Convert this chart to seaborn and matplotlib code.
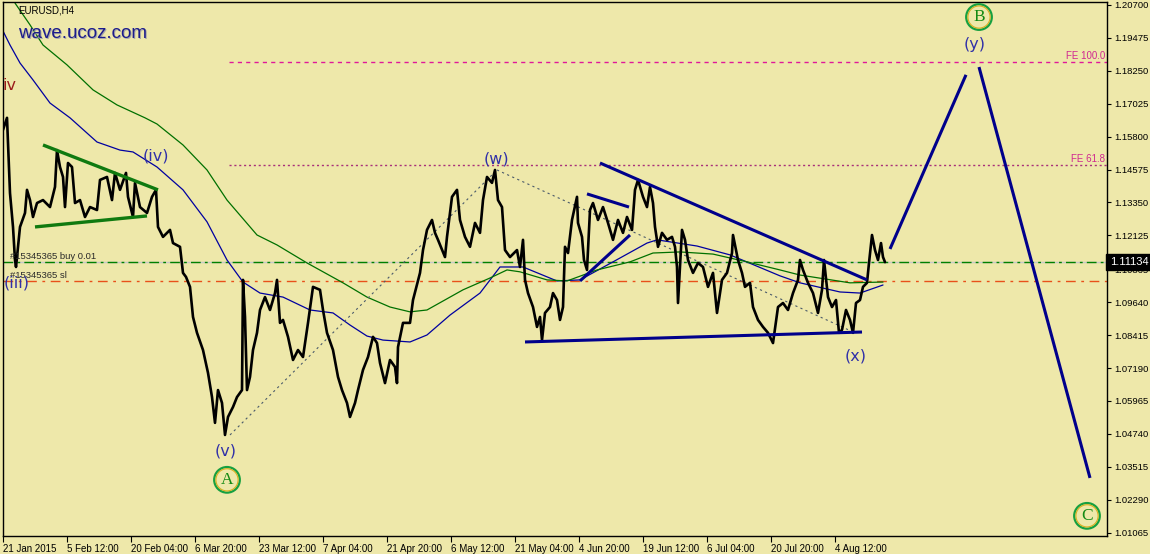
import matplotlib
matplotlib.use("Agg")
import matplotlib.pyplot as plt
import matplotlib.transforms as mtransforms
import seaborn as sns

# EURUSD H4, values (x = bar number from 21 Jan 2015)
price_bar = [0, 4, 7, 10, 12, 13, 17, 22, 24, 27, 30, 34, 40, 47, 52, 54, 57, 60, 62, 65,
             69, 72, 77, 82, 87, 94, 97, 104, 109, 112, 117, 123, 125, 130, 132, 137, 144, 149, 153, 155,
             160, 167, 170, 177, 180, 183, 187, 190, 194, 200, 205, 209, 212, 215, 219, 222, 225, 230, 234, 239,
             240, 242, 244, 247, 250, 254, 257, 262, 267, 272, 274, 277, 280, 285, 290, 295, 300, 305, 310, 317,
             320, 324, 330, 335, 339, 344, 347, 352, 355, 360, 365, 370, 374, 377, 382, 387, 392, 394, 395, 400,
             407, 410, 417, 420, 424, 429, 432, 435, 442, 444, 449, 454, 457, 462, 467, 472, 477, 480, 484, 489,
             492, 495, 499, 502, 507, 514, 517, 520, 522, 525, 530, 534, 537, 539, 542, 547, 550, 554, 557, 560,
             562, 565, 569, 574, 575, 579, 581, 584, 587, 590, 595, 600, 605, 610, 615, 620, 624, 629, 632, 635,
             640, 644, 647, 650, 652, 655, 659, 664, 669, 672, 674, 675, 679, 682, 685, 690, 695, 700, 705, 710,
             714, 719, 724, 729, 730, 735, 739, 742, 747, 750, 755, 760, 765, 767, 770, 775, 780, 785, 790, 795,
             797, 800, 805, 810, 815, 819, 821, 825, 829, 833, 836, 839, 843, 847, 850, 853, 857, 860, 864, 866,
             869, 872, 875, 878, 880, 882]
price = [1.1605, 1.1650, 1.1370, 1.1244, 1.1121, 1.1095, 1.1244, 1.1296, 1.1382, 1.1344, 1.1281, 1.1333, 1.1344, 1.1318, 1.1393, 1.1530, 1.1467, 1.1430, 1.1318, 1.1482,
         1.1467, 1.1333, 1.1344, 1.1281, 1.1318, 1.1307, 1.1419, 1.1430, 1.1344, 1.1445, 1.1382, 1.1445, 1.1356, 1.1281, 1.1408, 1.1318, 1.1296, 1.1356, 1.1382, 1.1244,
         1.1207, 1.1233, 1.1184, 1.1170, 1.1073, 1.1058, 1.1021, 1.0909, 1.0850, 1.0786, 1.0701, 1.0611, 1.0515, 1.0637, 1.0589, 1.0470, 1.0537, 1.0574, 1.0611, 1.0637,
         1.1047, 1.0909, 1.0637, 1.0686, 1.0786, 1.0850, 1.0935, 1.0983, 1.0935, 1.0998, 1.1047, 1.0887, 1.0898, 1.0835, 1.0749, 1.0786, 1.0760, 1.0887, 1.1021, 1.1010,
         1.0935, 1.0850, 1.0786, 1.0686, 1.0637, 1.0589, 1.0537, 1.0589, 1.0637, 1.0712, 1.0760, 1.0835, 1.0812, 1.0738, 1.0663, 1.0749, 1.0723, 1.0663, 1.0797, 1.0887,
         1.0887, 1.0972, 1.1073, 1.1158, 1.1233, 1.1270, 1.1222, 1.1196, 1.1132, 1.1207, 1.1356, 1.1382, 1.1270, 1.1207, 1.1170, 1.1259, 1.1222, 1.1344, 1.1430, 1.1408,
         1.1456, 1.1344, 1.1318, 1.1158, 1.1132, 1.1158, 1.1095, 1.1196, 1.1047, 1.0998, 1.0946, 1.0872, 1.0909, 1.0823, 1.0924, 1.0946, 1.0998, 1.0972, 1.0898, 1.0946,
         1.1170, 1.1147, 1.1270, 1.1356, 1.1259, 1.1207, 1.1121, 1.1084, 1.1307, 1.1333, 1.1270, 1.1318, 1.1259, 1.1196, 1.1270, 1.1222, 1.1281, 1.1233, 1.1382, 1.1419,
         1.1356, 1.1318, 1.1393, 1.1333, 1.1244, 1.1170, 1.1222, 1.1196, 1.1207, 1.1170, 1.1095, 1.0961, 1.1233, 1.1196, 1.1121, 1.1073, 1.1110, 1.1095, 1.1021, 1.1073,
         1.0924, 1.1047, 1.1073, 1.1147, 1.1214, 1.1121, 1.1073, 1.1021, 1.1036, 1.0946, 1.0898, 1.0872, 1.0850, 1.0835, 1.0812, 1.0946, 1.0961, 1.0935, 1.0998, 1.1047,
         1.1121, 1.1084, 1.1036, 1.0998, 1.0924, 1.1010, 1.1121, 1.0983, 1.0946, 1.0972, 1.0850, 1.0861, 1.0935, 1.0898, 1.0850, 1.0961, 1.0972, 1.1021, 1.1036, 1.1110,
         1.1214, 1.1158, 1.1121, 1.1184, 1.1132, 1.1113]

ma_blue_bar = [0, 7, 17, 30, 47, 67, 94, 117, 130, 154, 180, 204, 224, 240, 257, 280, 307, 330, 347, 364,
               380, 407, 424, 447, 477, 497, 520, 554, 577, 610, 644, 654, 694, 727, 777, 797, 837, 857, 880]
ma_blue = [1.1973, 1.1921, 1.1854, 1.1791, 1.1705, 1.1650, 1.1560, 1.1530, 1.1523, 1.1467, 1.1382, 1.1263, 1.1121, 1.1039, 1.0998, 1.0983, 1.0935, 1.0924, 1.0879, 1.0838,
           1.0823, 1.0816, 1.0842, 1.0916, 1.0998, 1.1095, 1.1095, 1.1043, 1.1047, 1.1114, 1.1184, 1.1196, 1.1173, 1.1140, 1.1062, 1.1036, 1.1002, 1.0998, 1.1028]

ma_green_bar = [12, 27, 40, 64, 90, 114, 142, 154, 180, 204, 224, 254, 274, 304, 340, 364, 387, 407, 424, 460,
                487, 504, 517, 544, 564, 594, 627, 650, 677, 710, 744, 777, 797, 847, 880]
ma_green = [1.2077, 1.1996, 1.1921, 1.1847, 1.1754, 1.1698, 1.1650, 1.1627, 1.1549, 1.1456, 1.1344, 1.1214, 1.1177, 1.1110, 1.1036, 1.0983, 1.0946, 1.0928, 1.0935, 1.1010,
            1.1054, 1.1084, 1.1077, 1.1047, 1.1043, 1.1084, 1.1114, 1.1147, 1.1151, 1.1143, 1.1114, 1.1084, 1.1065, 1.1036, 1.1039]

# trend lines: (bar0, price0, bar1, price1)
green_lines = [(40, 1.1549, 155, 1.1382), (32, 1.1244, 144, 1.1285)]
blue_lines = [(597, 1.1482, 864, 1.1047), (522, 1.0816, 859, 1.0853),
              (584, 1.1367, 626, 1.1318), (577, 1.1043, 627, 1.1214),
              (887, 1.1162, 963, 1.1810), (976, 1.1839, 1087, 1.0310)]
dotted_lines = [(227, 1.0470, 494, 1.1456), (494, 1.1456, 852, 1.0850)]

wave_labels = ["(iii)", "(iv)", "(v)", "(w)", "(x)", "(y)"]
wave_bar = [14, 153, 223, 493, 853, 972]
wave_price = [1.1036, 1.1508, 1.0410, 1.1497, 1.0764, 1.1921]
circle_labels = ["A", "B", "C"]
circle_bar = [224, 976, 1084]
circle_price = [1.0303, 1.2025, 1.0169]

fe100, fe618 = 1.1858, 1.1475
buy_level, sl_level = 1.11134, 1.1043
last_price = "1.11134"

y_ticks = [1.01065, 1.02290, 1.03515, 1.04740, 1.05965, 1.07190, 1.08415, 1.09640, 1.10865,
           1.12125, 1.13350, 1.14575, 1.15800, 1.17025, 1.18250, 1.19475, 1.20700]
x_tick_labels = ["21 Jan 2015", "5 Feb 12:00", "20 Feb 04:00", "6 Mar 20:00", "23 Mar 12:00",
                 "7 Apr 04:00", "21 Apr 20:00", "6 May 12:00", "21 May 04:00", "4 Jun 20:00",
                 "19 Jun 12:00", "6 Jul 04:00", "20 Jul 20:00", "4 Aug 12:00"]
x_ticks = [64 * i for i in range(len(x_tick_labels))]

bg = "#EEE8AA"
sns.set_theme(style="white", rc={"axes.facecolor": bg, "figure.facecolor": bg})
plt.rcParams["font.family"] = ["Liberation Sans", "DejaVu Sans"]

fig = plt.figure(figsize=(11.5, 5.54), dpi=100)
ax = fig.add_axes([3 / 1150, 18 / 554, 1104 / 1150, 534 / 554])
ax.set_xlim(0, 1104)
ax.set_ylim(1.0094, 1.2081)

# horizontal levels
ax.axhline(buy_level, color="#c8c8c8", lw=1, zorder=1)
ax.axhline(buy_level, color="#008000", lw=1, ls=(0, (7, 3, 2, 3)), zorder=1)
ax.axhline(sl_level, color="#e8501a", lw=1, ls=(0, (7, 4, 2, 4)), zorder=1)
ax.plot([226, 1104], [fe100, fe100], color="#e0189a", lw=1, ls=(0, (3, 3)))
ax.plot([226, 1104], [fe618, fe618], color="#a8307a", lw=1, ls=(0, (1.5, 2)))
ax.text(1102, fe100 + 0.0004, "FE 100.0", color="#d02890", fontsize=7, ha="right", va="bottom")
ax.text(1102, fe618 + 0.0004, "FE 61.8", color="#d02890", fontsize=7, ha="right", va="bottom")

# moving averages
sns.lineplot(x=ma_blue_bar, y=ma_blue, ax=ax, color="#0000a0", lw=0.9, sort=False, estimator=None)
sns.lineplot(x=ma_green_bar, y=ma_green, ax=ax, color="#007000", lw=0.9, sort=False, estimator=None)

for b0, p0, b1, p1 in dotted_lines:
    ax.plot([b0, b1], [p0, p1], color="#4a5a6a", lw=0.8, ls=(0, (2, 3)))

# price
sns.lineplot(x=price_bar, y=price, ax=ax, color="black", lw=1.9, sort=False, estimator=None, zorder=3)

for b0, p0, b1, p1 in green_lines:
    ax.plot([b0, b1], [p0, p1], color="#107a10", lw=2.4, solid_capstyle="butt", zorder=4)
for b0, p0, b1, p1 in blue_lines:
    ax.plot([b0, b1], [p0, p1], color="#00008b", lw=2.2, solid_capstyle="butt", zorder=4)

# wave labels
ax.text(6, 1.1772, "iv", color="#9a1c1c", fontsize=11.5, ha="center", va="center", family="DejaVu Sans")
for lab, b, p in zip(wave_labels, wave_bar, wave_price):
    ax.text(b, p, lab, color="#3030a8", fontsize=11.5, ha="center", va="center", family="DejaVu Sans", zorder=5)
ax.scatter(circle_bar, circle_price, s=340, facecolors="none", edgecolors="#17a040", linewidths=1.6, zorder=5)
ax.scatter(circle_bar, circle_price, s=255, facecolors="none", edgecolors="#d9b020", linewidths=0.8, zorder=5)
for lab, b, p in zip(circle_labels, circle_bar, circle_price):
    ax.text(b, p, lab, color="#148a14", fontsize=12.5, ha="center", va="center", family="Liberation Serif", zorder=6)

# texts in the top-left corner and order labels
ax.text(15, 1.2051, "EURUSD,H4", color="black", fontsize=7, va="center")
shadow = mtransforms.offset_copy(ax.transData, fig=fig, x=1.5, y=-1.5, units="dots")
ax.text(15, 1.1965, "wave.ucoz.com", color="#a8a8a8", fontsize=13.5, va="center", transform=shadow)
ax.text(15, 1.1965, "wave.ucoz.com", color="#1c1c8c", fontsize=13.5, va="center")
ax.text(7, buy_level + 0.0003, "#15345365 buy 0.01", color="#2a2a2a", fontsize=6.8, va="bottom")
ax.text(7, sl_level + 0.0003, "#15345365 sl", color="#2a2a2a", fontsize=6.8, va="bottom")

# axes
ax.set_xticks(x_ticks)
ax.set_xticklabels(x_tick_labels, ha="left")
ax.yaxis.tick_right()
ax.set_yticks(y_ticks)
ax.set_yticklabels([f"{v:.5f}" for v in y_ticks])
ax.tick_params(axis="x", bottom=True, length=4, width=0.8, pad=1.5, labelsize=7, colors="black")
ax.tick_params(axis="y", right=True, left=False, length=3, width=0.8, pad=2, labelsize=6.8, colors="black")
for s in ax.spines.values():
    s.set_color("black")
    s.set_linewidth(1)
ax.set_xlabel("")
ax.set_ylabel("")

trans = mtransforms.blended_transform_factory(ax.transAxes, ax.transData)
ax.text(1.0025, buy_level, last_price, transform=trans, color="white", fontsize=8, va="center", ha="left",
        bbox=dict(boxstyle="square,pad=0.3", fc="black", ec="black"), zorder=10, clip_on=False)

fig.savefig("out.png", dpi=100, facecolor=bg)
